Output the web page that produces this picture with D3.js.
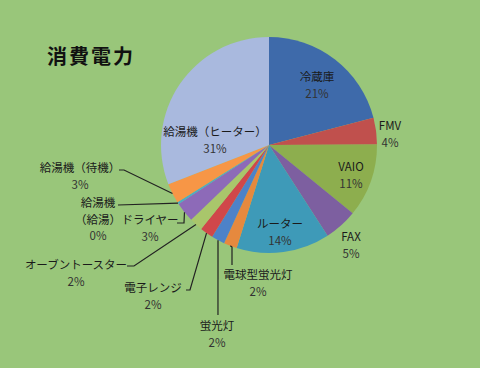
<!DOCTYPE html>
<html>
<head>
<meta charset="utf-8">
<script src="https://cdn.jsdelivr.net/npm/d3@7"></script>
<style>
  body { margin: 0; background: #99c67a; }
  svg { display: block; }
  text { font-family: "Noto Sans CJK JP", sans-serif; }
</style>
</head>
<body>
<svg width="480" height="368"></svg>
<script>
const svg = d3.select("svg");
const width = +svg.attr("width");
const height = +svg.attr("height");

// data
const names = ["冷蔵庫", "FMV", "VAIO", "FAX", "ルーター", "電球型蛍光灯", "蛍光灯",
  "電子レンジ", "オーブントースター", "ドライヤー", "給湯機（給湯）", "給湯機（待機）", "給湯機（ヒーター）"];
const values = [21, 4, 11, 5, 14, 2, 2, 2, 2, 3, 0.3, 3, 31];
const colors = ["#3e6aaa", "#c0504d", "#8dae4e", "#7d5fa0", "#3e9ab8", "#e6893e", "#4d82c8",
  "#d0474a", "#a9c66b", "#8d6ab8", "#4bacc6", "#f79646", "#a9b9de"];

const cx = 269, cy = 145, radius = 108;

svg.append("rect").attr("width", width).attr("height", height).attr("fill", "#99c67a");

svg.append("text")
  .attr("x", 47).attr("y", 55)
  .attr("dominant-baseline", "central")
  .attr("font-size", 20).attr("font-weight", "bold")
  .attr("letter-spacing", 2)
  .attr("fill", "#111")
  .text("消費電力");

const pie = d3.pie().sort(null).value(d => d)(values);
const total = d3.sum(values);
const pct = d3.format(".0%");
const arc = d3.arc().innerRadius(0).outerRadius(radius);

const g = svg.append("g").attr("transform", `translate(${cx},${cy})`);
g.selectAll("path.slice").data(pie).join("path")
  .attr("class", "slice")
  .attr("d", arc)
  .attr("fill", (d, i) => colors[i]);

// label layout: [x, y, lines] ; leaders ending points
const labelPos = [
  [317, 76], [390, 125], [351, 166], [351, 236], [280, 223], [258, 274], [217, 325],
  [153, 287], [76, 264], [150, 219], [98, 202], [80, 167], [215, 131]
];
const labelLines = names.map((n, i) => {
  if (i === 10) return ["給湯機", "（給湯）"];
  return [n];
});
const leaders = {
  5: [[232, 247], [232, 265]],
  6: [[218, 315]],
  7: [[190, 290], [186, 290]],
  8: [[134, 266], [127, 266]],
  9: [[184, 223], [177, 223]],
  10: [[118, 205]],
  11: [[124, 170], [119, 170]]
};

const edge = d => {
  const a = (d.startAngle + d.endAngle) / 2;
  return [cx + radius * Math.sin(a), cy - radius * Math.cos(a)];
};

const line = d3.line();
Object.keys(leaders).forEach(k => {
  const pts = [edge(pie[k])].concat(leaders[k]);
  svg.append("path")
    .attr("d", line(pts))
    .attr("fill", "none")
    .attr("stroke", "#222")
    .attr("stroke-width", 1.2);
});

const labels = svg.append("g").attr("font-size", 11.5).attr("text-anchor", "middle");
pie.forEach((d, i) => {
  const [x, y] = labelPos[i];
  const lines = labelLines[i].concat([pct(d.value / total)]);
  lines.forEach((t, j) => {
    labels.append("text")
      .attr("x", x).attr("y", y + j * 16.5)
      .attr("dominant-baseline", "central")
      .attr("fill", j === lines.length - 1 ? "#333" : "#1a1a1a")
      .text(t);
  });
});
</script>
</body>
</html>
